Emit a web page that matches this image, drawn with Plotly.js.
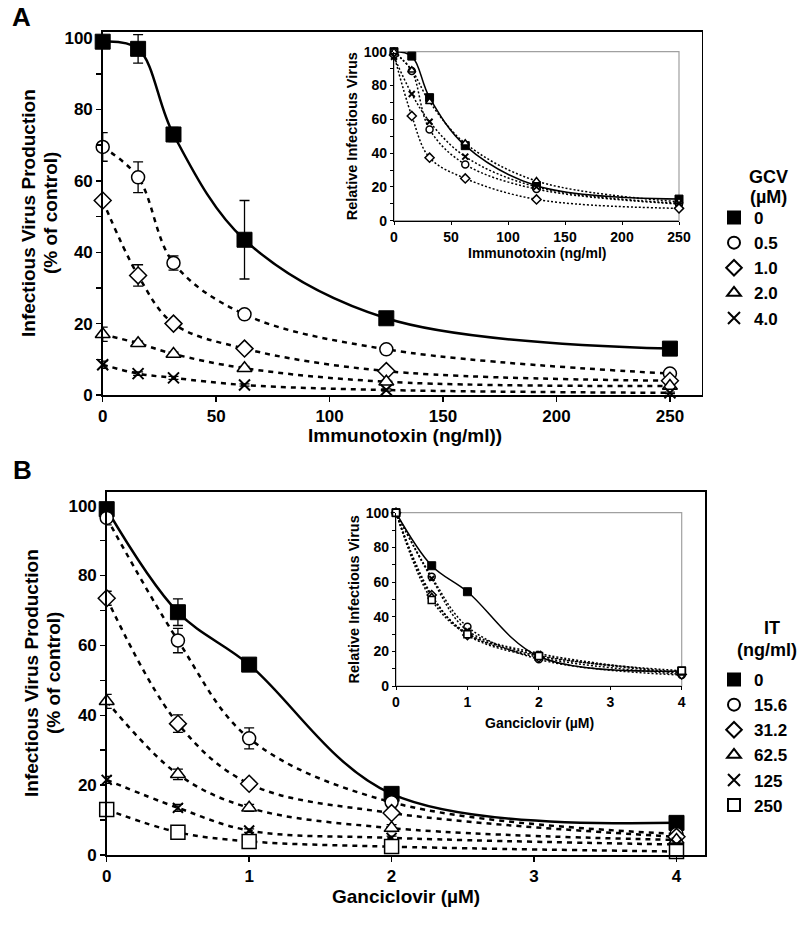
<!DOCTYPE html>
<html>
<head>
<meta charset="utf-8">
<script src="https://cdn.plot.ly/plotly-3.0.1.min.js"></script>
<style>
  html, body { margin: 0; padding: 0; background: #fff; }
  #chart { width: 800px; height: 925px; }
</style>
</head>
<body>
<div id="chart"></div>
<script>
// Panel A: immunotoxin doses (ng/ml) and GCV levels (uM)
const itDoses = [0, 15.6, 31.2, 62.5, 125, 250];
const gcvNames = ["0", "0.5", "1.0", "2.0", "4.0"];

// % of control, main plot A
const aGcv0 = [99, 97, 73, 43.5, 21.5, 13];
const aGcv05 = [69.5, 61, 37, 22.6, 12.8, 6];
const aGcv10 = [54.5, 33.5, 20, 13, 6.7, 4];
const aGcv20 = [17, 14.5, 11.5, 7.5, 3.7, 2.5];
const aGcv40 = [8.5, 6, 4.8, 2.8, 1.4, 0.6];

const aErr0 = [0.5, 4, 2, 11, 1, 1];
const aErr05 = [4, 4.3, 2, 0.8, 0.6, 0.4];
const aErr10 = [0.8, 3, 0.6, 0.5, 0.4, 0.3];
const aErr20 = [2, 0.6, 0.5, 0.5, 0.4, 0.3];
const aErr40 = [1, 0.5, 0.4, 0.3, 0.3, 0.2];

// relative infectious virus, inset A
const rGcv0 = [100, 97.4, 72.8, 44.4, 20.7, 12.8];
const rGcv05 = [100, 88.6, 54, 33.3, 18.7, 9.9];
const rGcv10 = [98, 62, 37.3, 25, 12.6, 7.3];
const rGcv20 = [100, 89, 70.4, 45.8, 23.5, 11.2];
const rGcv40 = [97, 75, 58.6, 37.9, 20, 10.3];

// Panel B: ganciclovir doses (uM) and IT levels (ng/ml)
const gcvDoses = [0, 0.5, 1, 2, 4];
const itNames = ["0", "15.6", "31.2", "62.5", "125", "250"];

const bIt0 = [99, 69.5, 54.5, 17.5, 9.2];
const bIt156 = [96.5, 61.4, 33.4, 15.1, 6];
const bIt312 = [73.5, 37.6, 20.4, 12, 5.2];
const bIt625 = [44, 23.1, 13.5, 7.7, 4.3];
const bIt125 = [21.5, 13.5, 7, 4.9, 3];
const bIt250 = [13, 6.5, 3.9, 2.4, 1];

const bErr0 = [1, 3.8, 1, 1, 0.8];
const bErr156 = [2, 3.5, 3, 1, 0.5];
const bErr312 = [2, 2.5, 1, 1, 0.5];
const bErr625 = [2, 1.5, 1, 1, 0.5];
const bErr125 = [1, 1, 0.5, 0.5, 0.4];
const bErr250 = [1, 0.5, 0.5, 0.4, 0.3];

const rIt0 = [100, 69.4, 54.4, 17, 8.7];
const rIt156 = [100, 63, 34.2, 15.4, 6.3];
const rIt312 = [100, 52.5, 29.4, 16.5, 6.7];
const rIt625 = [100, 51.5, 30.4, 17.9, 7.3];
const rIt125 = [100, 62, 32, 18.8, 7.7];
const rIt250 = [100, 49.6, 29.8, 17.3, 8.8];

const FONT = "Liberation Sans, Arial, Helvetica, sans-serif";

const symbols = {
  filled: { symbol: "square", color: "#000", line: { color: "#000", width: 1 } },
  circle: { symbol: "circle", color: "#fff", line: { color: "#000", width: 1.5 } },
  diamond: { symbol: "diamond", color: "#fff", line: { color: "#000", width: 1.5 } },
  triangle: { symbol: "triangle-up", color: "#fff", line: { color: "#000", width: 1.5 } },
  cross: { symbol: "x-thin", color: "#000", line: { color: "#000", width: 2 } },
  square: { symbol: "square", color: "#fff", line: { color: "#000", width: 1.5 } }
};

function lineTrace(x, y, axes, dash, width) {
  return {
    x, y,
    xaxis: axes[0], yaxis: axes[1],
    type: "scatter",
    mode: "lines",
    line: { color: "#000", width, dash, shape: "spline", smoothing: 1 },
    cliponaxis: false,
    hoverinfo: "skip",
    showlegend: false
  };
}

function markerTrace(x, y, axes, sym, size, opts) {
  const o = opts || {};
  const trace = {
    x, y,
    xaxis: axes[0], yaxis: axes[1],
    type: "scatter",
    mode: "markers",
    name: o.name || "",
    marker: Object.assign({ size }, sym),
    cliponaxis: false,
    showlegend: !!o.legend,
    legend: o.legend || "legend"
  };
  if (o.err) {
    trace.error_y = { type: "data", array: o.err, visible: true, color: "#000", thickness: 1.3, width: 5 };
  }
  return trace;
}

const A = ["x", "y"], AI = ["x2", "y2"], B = ["x3", "y3"], BI = ["x4", "y4"];
const DASH = "5px,5px", DOT = "2px,2px";

const aSeries = [
  [aGcv0, aErr0, rGcv0, symbols.filled, 15, "solid"],
  [aGcv05, aErr05, rGcv05, symbols.circle, 13, DASH],
  [aGcv10, aErr10, rGcv10, symbols.diamond, 13, DASH],
  [aGcv20, aErr20, rGcv20, symbols.triangle, 13, DASH],
  [aGcv40, aErr40, rGcv40, symbols.cross, 11, DASH]
];

const bSeries = [
  [bIt0, bErr0, rIt0, symbols.filled, 15, "solid"],
  [bIt156, bErr156, rIt156, symbols.circle, 13, DASH],
  [bIt312, bErr312, rIt312, symbols.diamond, 13, DASH],
  [bIt625, bErr625, rIt625, symbols.triangle, 13, DASH],
  [bIt125, bErr125, rIt125, symbols.cross, 10, DASH],
  [bIt250, bErr250, rIt250, symbols.square, 14, DASH]
];

const data = [];
aSeries.forEach(([vals, err, rel, sym, size, dash]) => {
  data.push(lineTrace(itDoses, vals, A, dash, 2.5));
  data.push(lineTrace(itDoses, rel, AI, dash === "solid" ? "solid" : DOT, 1.5));
});
bSeries.forEach(([vals, err, rel, sym, size, dash]) => {
  data.push(lineTrace(gcvDoses, vals, B, dash, 2.5));
  data.push(lineTrace(gcvDoses, rel, BI, dash === "solid" ? "solid" : DOT, 1.5));
});
aSeries.forEach(([vals, err, rel, sym, size], i) => {
  data.push(markerTrace(itDoses, rel, AI, sym, Math.round(size / 2)));
  data.push(markerTrace(itDoses, vals, A, sym, size, { err, name: gcvNames[i], legend: "legend" }));
});
bSeries.forEach(([vals, err, rel, sym, size], i) => {
  data.push(markerTrace(gcvDoses, rel, BI, sym, Math.round(size / 2)));
  data.push(markerTrace(gcvDoses, vals, B, sym, size, { err, name: itNames[i], legend: "legend2" }));
});

// pixel helpers (page is 800 x 925, no margins)
const px = (v) => v / 800;
const py = (v) => 1 - v / 925;

function mainAxis(domain, range, dtick, extra) {
  return Object.assign({
    domain, range, dtick, tick0: 0,
    showline: true, mirror: true, linecolor: "#000", linewidth: 1.5,
    ticks: "outside", ticklen: 5, tickwidth: 1.5, tickcolor: "#000",
    showgrid: false, zeroline: false,
    tickfont: { family: FONT, size: 17, color: "#000", weight: "bold" }
  }, extra || {});
}

function insetAxis(domain, range, dtick, title, extra) {
  return Object.assign({
    domain, range, dtick, tick0: 0,
    showline: true, linecolor: "#000", linewidth: 1.2,
    ticks: "outside", ticklen: 3, tickwidth: 1, tickcolor: "#000",
    showgrid: false, zeroline: false,
    tickfont: { family: FONT, size: 14, color: "#000", weight: "bold" },
    title: { text: title, font: { family: FONT, size: 14.5, color: "#000", weight: "bold" }, standoff: 2 }
  }, extra || {});
}

const yMinor = { dtick: 10, ticks: "outside", ticklen: 5, tickwidth: 1.5, tickcolor: "#000" };
const yMinorInset = { dtick: 10, ticks: "outside", ticklen: 3, tickwidth: 1, tickcolor: "#000" };

function legendBox(top) {
  return {
    x: px(714), xanchor: "left", y: py(top), yanchor: "top",
    bgcolor: "rgba(0,0,0,0)", borderwidth: 0,
    font: { family: FONT, size: 17, color: "#000", weight: "bold" },
    itemsizing: "constant", tracegroupgap: 0
  };
}

function label(text, x, y, size, angle) {
  return {
    text, xref: "paper", yref: "paper", x: px(x), y: py(y),
    xanchor: "center", yanchor: "middle", showarrow: false, textangle: angle || 0,
    font: { family: FONT, size, color: "#000", weight: "bold" }
  };
}

const layout = {
  width: 800, height: 925,
  margin: { l: 0, r: 0, t: 0, b: 0 },
  paper_bgcolor: "#fff", plot_bgcolor: "rgba(0,0,0,0)",
  font: { family: FONT, color: "#000" },
  showlegend: true,
  legend: legendBox(200),
  legend2: legendBox(662),

  xaxis: mainAxis([px(102.7), px(701.7)], [0, 264], 50, { anchor: "y" }),
  yaxis: mainAxis([py(395), py(31.7)], [0, 101.8], 20, { anchor: "x", minor: yMinor }),
  xaxis2: insetAxis([px(394), px(679)], [0, 250], 50, "", { anchor: "y2" }),
  yaxis2: insetAxis([py(220.7), py(51.7)], [0, 100], 20, "Relative Infectious Virus",
    { anchor: "x2", minor: yMinorInset }),

  xaxis3: mainAxis([px(106.7), px(705)], [0, 4.2], 1, { anchor: "y3" }),
  yaxis3: mainAxis([py(855), py(491.7)], [0, 104], 20, { anchor: "x3", minor: yMinor }),
  xaxis4: insetAxis([px(396), px(681.7)], [0, 4], 1, "", { anchor: "y4" }),
  yaxis4: insetAxis([py(686), py(512.7)], [0, 100], 20, "Relative Infectious Virus",
    { anchor: "x4", minor: yMinorInset }),

  shapes: [
    { type: "rect", xref: "x2 domain", yref: "y2 domain", x0: 0, x1: 1, y0: 0, y1: 1,
      line: { color: "#a0a0a0", width: 1.2 }, fillcolor: "rgba(0,0,0,0)", layer: "below" },
    { type: "rect", xref: "x4 domain", yref: "y4 domain", x0: 0, x1: 1, y0: 0, y1: 1,
      line: { color: "#a0a0a0", width: 1.2 }, fillcolor: "rgba(0,0,0,0)", layer: "below" }
  ],

  annotations: [
    label("A", 21, 17, 26),
    label("B", 22, 470, 26),
    label("Immunotoxin (ng/ml))", 405, 435, 19),
    label("Infectious Virus Production", 29, 213, 19, -90),
    label("(% of control)", 51, 213, 19, -90),
    label("Immunotoxin (ng/ml)", 537, 253, 14),
    label("Ganciclovir (µM)", 406, 896, 19),
    label("Infectious Virus Production", 31, 673, 19, -90),
    label("(% of control)", 53, 673, 19, -90),
    label("Ganciclovir (µM)", 539, 723, 14),
    label("GCV", 768, 177, 18),
    label("(µM)", 768, 197, 18),
    label("IT", 772, 628, 18),
    label("(ng/ml)", 767, 650, 18)
  ]
};

Plotly.newPlot("chart", data, layout, { displayModeBar: false, staticPlot: true });
</script>
</body>
</html>
